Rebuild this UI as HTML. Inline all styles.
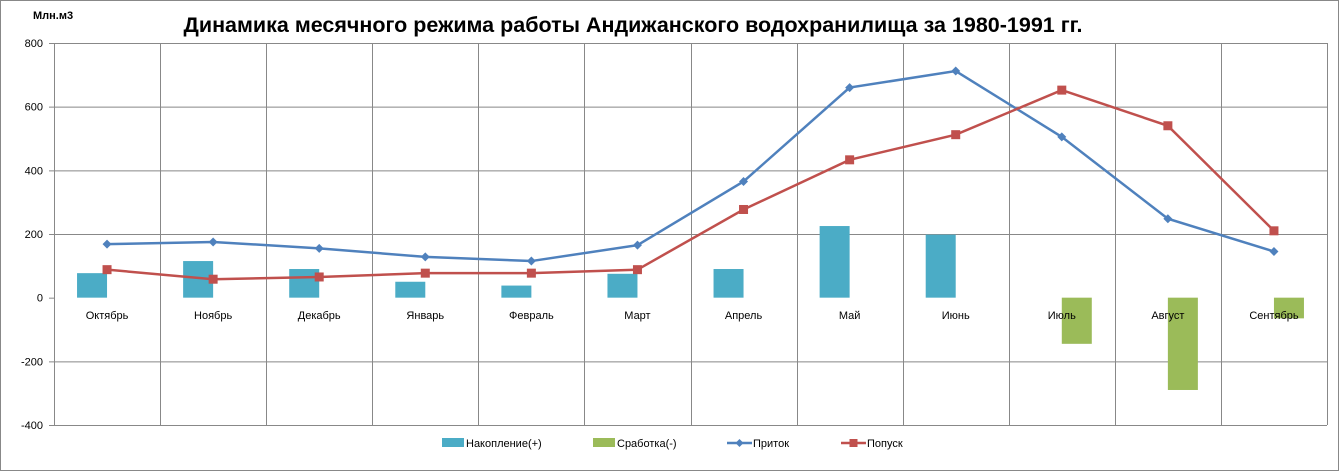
<!DOCTYPE html>
<html><head><meta charset="utf-8"><style>
body{margin:0;background:#fff}
svg{display:block;font-family:"Liberation Sans",Arial,sans-serif}
</style></head><body>
<svg width="1339" height="471" viewBox="0 0 1339 471" xmlns="http://www.w3.org/2000/svg">
<rect x="0.5" y="0.5" width="1338" height="470" fill="#fff" stroke="#888"/>
<text x="33" y="19" font-size="11" font-weight="bold">Млн.м3</text>
<text x="633" y="32" font-size="21.5" font-weight="bold" text-anchor="middle">Динамика месячного режима работы Андижанского водохранилища за 1980-1991 гг.</text>
<g id="grid" stroke="#888" stroke-width="1"></g>
<g id="bars"></g>
<g id="lines"></g>
<g id="labels" font-size="11" fill="#000"></g>
<g font-size="11">
<rect x="442" y="438" width="22" height="9" fill="#4bacc6"/><text x="466" y="447">Накопление(+)</text>
<rect x="593" y="438" width="22" height="9" fill="#9bbb59"/><text x="617" y="447">Сработка(-)</text>
<line x1="727" y1="443" x2="752" y2="443" stroke="#4f81bd" stroke-width="2.5"/><path d="M739.5 439 L743.5 443 L739.5 447 L735.5 443Z" fill="#4f81bd"/><text x="753" y="447">Приток</text>
<line x1="841" y1="443" x2="866" y2="443" stroke="#c0504d" stroke-width="2.5"/><rect x="849.5" y="439" width="8" height="8" fill="#c0504d"/><text x="867" y="447">Попуск</text>
</g>
<script>
const L=54,R=1327,T=43,cw=(R-L)/12,k=382/1200,z=T+800*k;
const y=v=>z-v*k, cx=i=>L+cw*(i+0.5);
const NS="http://www.w3.org/2000/svg";
function el(p,t,a,txt){const e=document.createElementNS(NS,t);for(const n in a)e.setAttribute(n,a[n]);if(txt!=null)e.textContent=txt;document.getElementById(p).appendChild(e);}
for(let v=800;v>=-400;v-=200){ if(v!==0) el("grid","line",{x1:L-5,x2:R,y1:y(v)+.5,y2:y(v)+.5}); else el("grid","line",{x1:L-5,x2:L,y1:y(v)+.5,y2:y(v)+.5});
 el("labels","text",{x:43,y:y(v)+4,"text-anchor":"end"},String(v));}
for(let i=0;i<=12;i++){const x=Math.round(L+cw*i)+.5;el("grid","line",{x1:x,x2:x,y1:T,y2:y(-400)});}
const m=["Октябрь","Ноябрь","Декабрь","Январь","Февраль","Март","Апрель","Май","Июнь","Июль","Август","Сентябрь"];
m.forEach((s,i)=>el("labels","text",{x:cx(i),y:319,"text-anchor":"middle"},s));
const bl=[77,115,90,50,38,75,90,225,198,0,0,0], gr=[0,0,0,0,0,0,0,0,0,-145,-290,-65];
bl.forEach((v,i)=>{if(v)el("bars","rect",{x:cx(i)-30,y:y(v),width:30,height:v*k,fill:"#4bacc6"});});
gr.forEach((v,i)=>{if(v)el("bars","rect",{x:cx(i),y:z,width:30,height:-v*k,fill:"#9bbb59"});});
const p=[168,175,155,128,115,165,365,660,712,505,248,145], q=[88,58,65,77,77,88,277,433,512,652,540,210];
el("lines","polyline",{points:p.map((v,i)=>cx(i)+","+y(v)).join(" "),fill:"none",stroke:"#4f81bd","stroke-width":2.5});
el("lines","polyline",{points:q.map((v,i)=>cx(i)+","+y(v)).join(" "),fill:"none",stroke:"#c0504d","stroke-width":2.5});
p.forEach((v,i)=>{const X=cx(i),Y=y(v);el("lines","path",{d:`M${X} ${Y-4.5}L${X+4.5} ${Y}L${X} ${Y+4.5}L${X-4.5} ${Y}Z`,fill:"#4f81bd"});});
q.forEach((v,i)=>el("lines","rect",{x:cx(i)-4.5,y:y(v)-4.5,width:9,height:9,fill:"#c0504d"}));
</script>
</svg>
</body></html>
